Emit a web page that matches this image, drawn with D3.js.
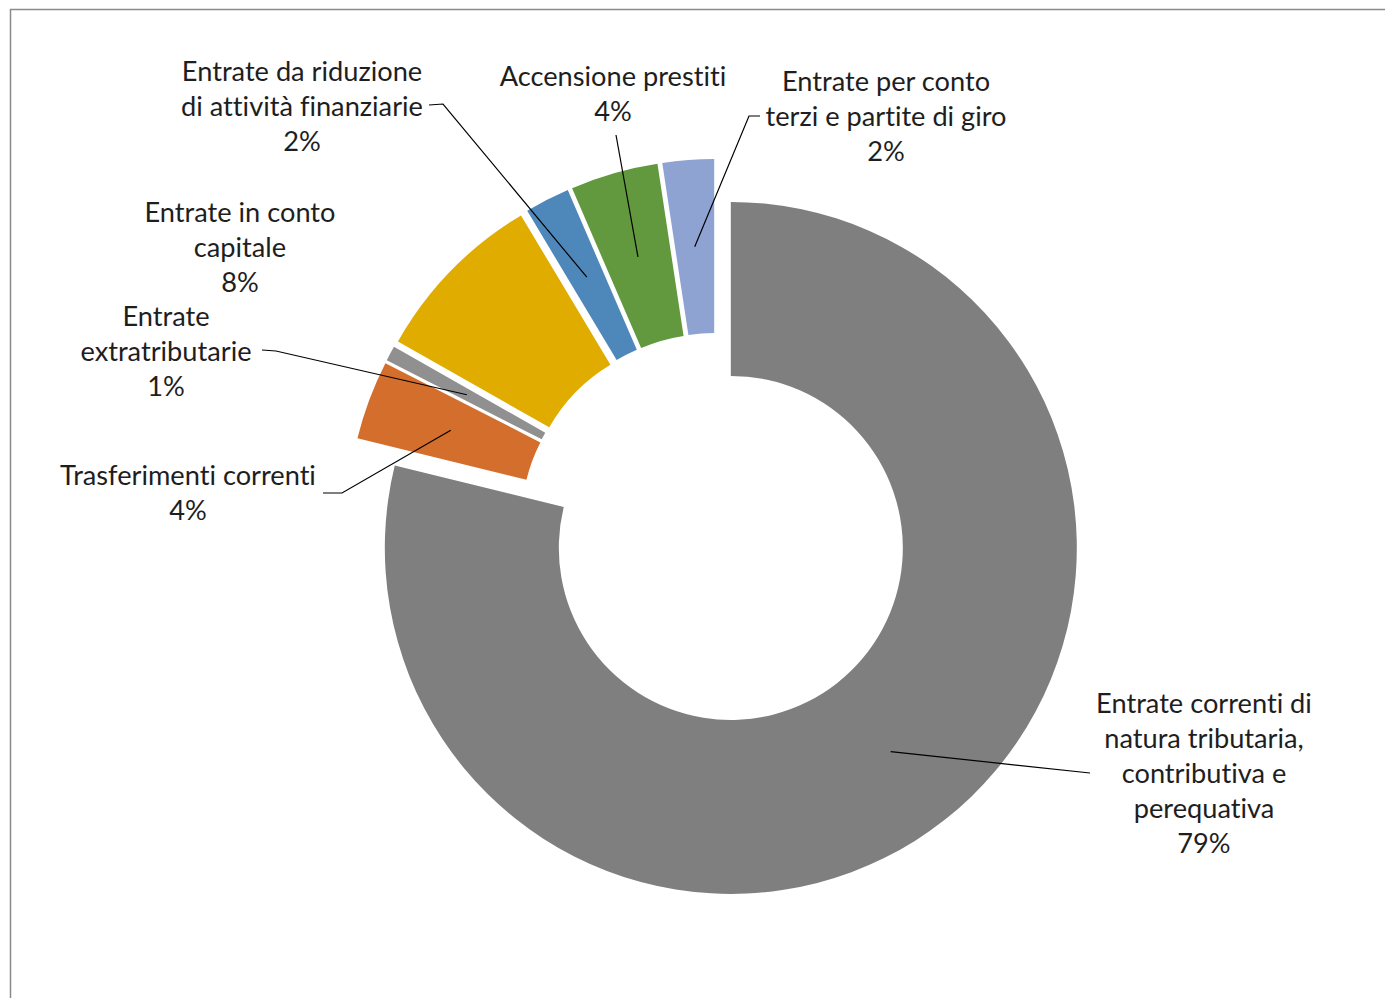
<!DOCTYPE html>
<html>
<head>
<meta charset="utf-8">
<script src="https://cdn.jsdelivr.net/npm/d3@7"></script>
<style>
  body { margin: 0; background: #fff; }
  text { font-variant-ligatures: none; }
</style>
</head>
<body>
<div id="container"></div>
<script>
const w = 1385;
const h = 998;

// slices, clockwise from 12 o'clock
const categories = [
  "Entrate correnti di natura tributaria, contributiva e perequativa",
  "Trasferimenti correnti",
  "Entrate extratributarie",
  "Entrate in conto capitale",
  "Entrate da riduzione di attività finanziarie",
  "Accensione prestiti",
  "Entrate per conto terzi e partite di giro"
];
const values = [78.9, 3.7, 0.7, 8.2, 2.1, 4.1, 2.4];
const pctLabels = ["79%", "4%", "1%", "8%", "2%", "4%", "2%"];
const labelLines = [
  ["Entrate correnti di", "natura tributaria,", "contributiva e", "perequativa"],
  ["Trasferimenti correnti"],
  ["Entrate", "extratributarie"],
  ["Entrate in conto", "capitale"],
  ["Entrate da riduzione", "di attività finanziarie"],
  ["Accensione prestiti"],
  ["Entrate per conto", "terzi e partite di giro"]
];
const colors = ["#7f7f7f", "#d46e2c", "#909090", "#e1ac00", "#4e87ba", "#62993f", "#8ea3d2"];

// label placement: centre x, first baseline, leader start points
const labelPos = [
  { x: 1204, y: 713, lead: [[1090, 773]] },
  { x: 188, y: 485, lead: [[323, 493], [342, 493]] },
  { x: 166, y: 326, lead: [[262, 350], [276, 351]] },
  { x: 240, y: 222, lead: null },
  { x: 302, y: 81, lead: [[429, 105], [443, 104]] },
  { x: 613, y: 86, lead: [[616, 135]] },
  { x: 886, y: 91, lead: [[760, 116], [749, 116]] }
];

const cx = 716, cy = 529;
const rIn = 172, rOut = 346;
const explode = 24;
const lineH = 35;

const svg = d3.select('#container')
  .append('svg')
  .attr('width', w)
  .attr('height', h)
  .attr('viewBox', [0, 0, w, h]);

svg.append('rect')
  .attr('x', 10.5)
  .attr('y', 9.5)
  .attr('width', w + 20)
  .attr('height', h + 20)
  .attr('fill', 'none')
  .attr('stroke', '#8a8a8a')
  .attr('stroke-width', 1.5);

const pie = d3.pie().sort(null).value(d => d);
const arcs = pie(values);
const arc = d3.arc().innerRadius(rIn).outerRadius(rOut);

const offset = d => {
  const mid = (d.startAngle + d.endAngle) / 2;
  return [explode * Math.sin(mid), -explode * Math.cos(mid)];
};

const g = svg.append('g').attr('transform', `translate(${cx},${cy})`);

g.selectAll('path.slice')
  .data(arcs)
  .enter()
  .append('path')
  .attr('class', 'slice')
  .attr('transform', d => `translate(${offset(d)})`)
  .attr('d', arc)
  .attr('fill', (d, i) => colors[i]);

// font size fitted so the widest single line matches the reference width
const font = 'Lato, "Open Sans", sans-serif';
const probe = svg.append('text')
  .style('font-family', font)
  .style('font-size', '100px')
  .text('Trasferimenti correnti');
const fs = 256 / probe.node().getComputedTextLength() * 100;
probe.remove();

// leader lines
const line = d3.line();
arcs.forEach((d, i) => {
  const lp = labelPos[i];
  if (!lp.lead) return;
  const o = offset(d);
  const c = arc.centroid(d);
  const end = [cx + o[0] + c[0], cy + o[1] + c[1]];
  svg.append('path')
    .attr('d', line(lp.lead.concat([end])))
    .attr('fill', 'none')
    .attr('stroke', '#000')
    .attr('stroke-width', 1.2);
});

// labels
labelLines.forEach((lines, i) => {
  const lp = labelPos[i];
  const t = svg.append('text')
    .attr('text-anchor', 'middle')
    .style('font-family', font)
    .style('font-size', fs + 'px')
    .attr('fill', '#1e1e1e');
  lines.concat([pctLabels[i]]).forEach((s, k) => {
    t.append('tspan')
      .attr('x', lp.x)
      .attr('y', lp.y + k * lineH)
      .text(s);
  });
});
</script>
</body>
</html>
